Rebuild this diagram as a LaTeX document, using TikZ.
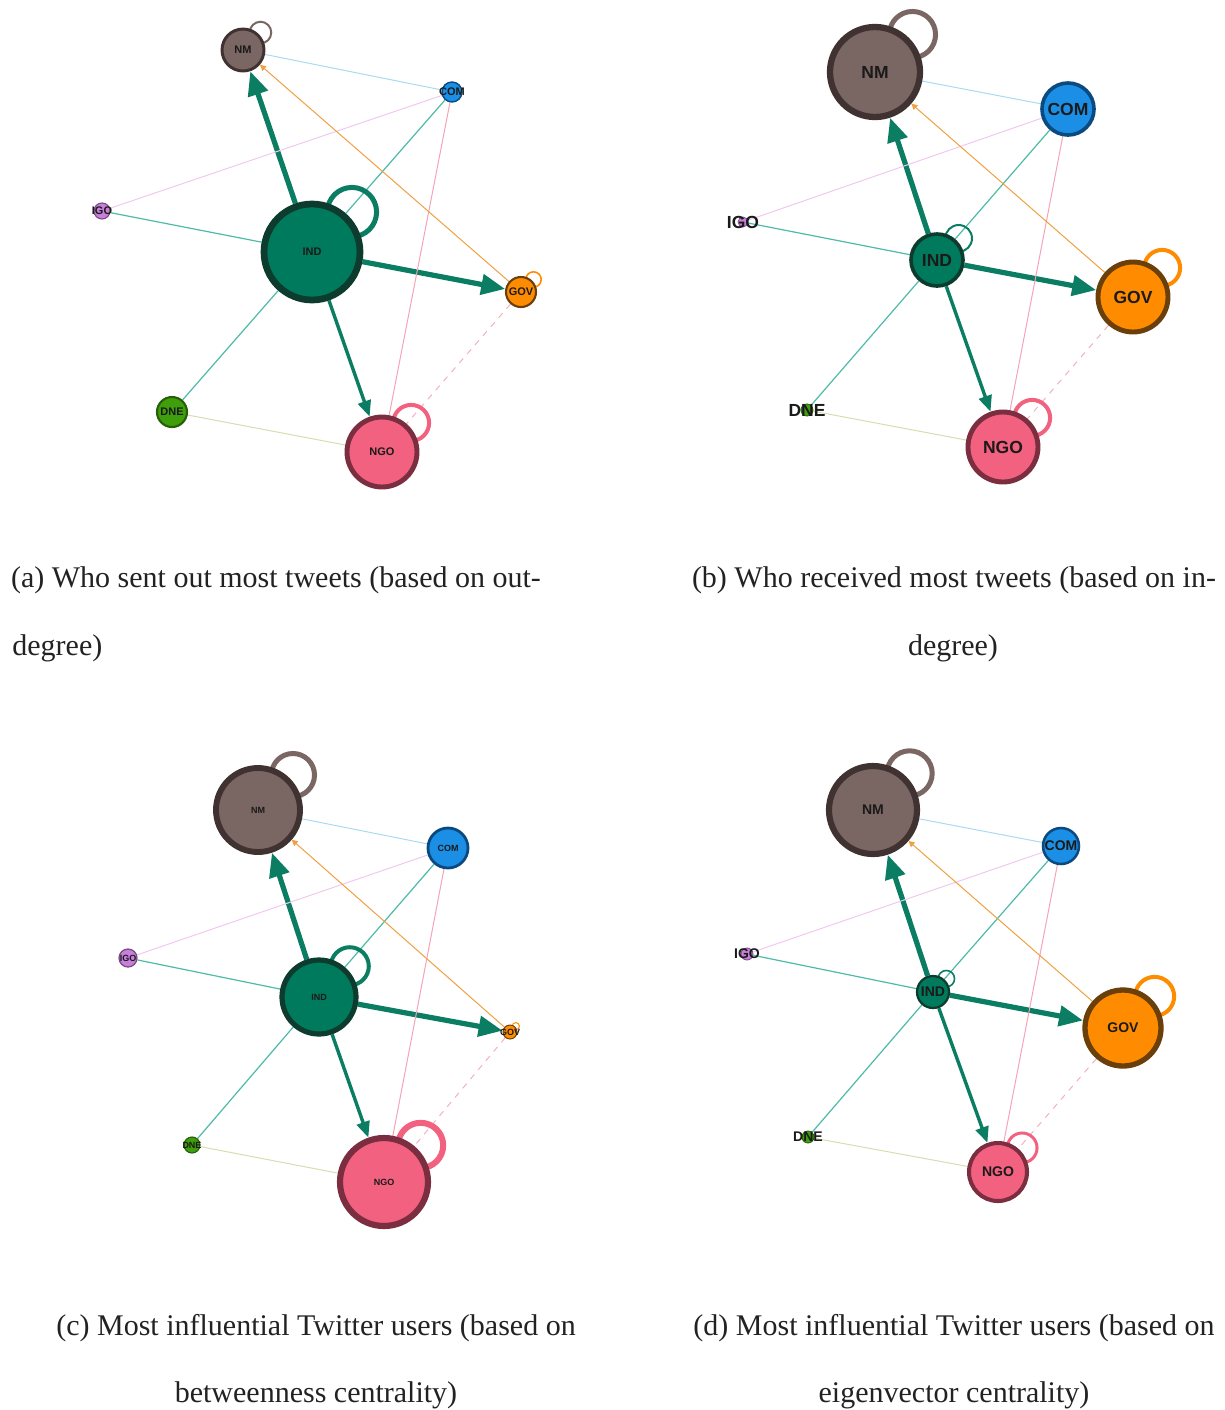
\documentclass[tikz,border=0pt]{standalone}
\usepackage{fontspec}
\setmainfont{Liberation Serif}
\newfontfamily\labfont{Liberation Sans}
\usetikzlibrary{arrows.meta,calc}
\pgfdeclarelayer{bg}
\pgfsetlayers{bg,main}
\definecolor{indF}{HTML}{007A5C}\definecolor{indB}{HTML}{0D3B2E}
\definecolor{nmF}{HTML}{7A6763}\definecolor{nmB}{HTML}{3F3230}
\definecolor{comF}{HTML}{1B8FE6}\definecolor{comB}{HTML}{0B4A80}
\definecolor{igoF}{HTML}{C77FD9}\definecolor{igoB}{HTML}{7A4A88}
\definecolor{govF}{HTML}{FF8C00}\definecolor{govB}{HTML}{6B3F0A}
\definecolor{dneF}{HTML}{3F9E0B}\definecolor{dneB}{HTML}{265F07}
\definecolor{ngoF}{HTML}{F2617F}\definecolor{ngoB}{HTML}{7A2E3F}
\definecolor{greenE}{HTML}{0A7D62}
\definecolor{tealE}{HTML}{4DBBA8}
\definecolor{blueE}{HTML}{A9DAF2}
\definecolor{pinkE}{HTML}{F4A3B8}
\definecolor{violetE}{HTML}{EFC9EF}
\definecolor{orangeE}{HTML}{F0A040}
\definecolor{oliveE}{HTML}{D8DCB0}
\definecolor{dashE}{HTML}{F4B0BF}
\definecolor{labc}{HTML}{1A1A1A}
\definecolor{capc}{HTML}{222222}
\tikzset{
  gnode/.style={circle, inner sep=0pt},
  bigarr/.style={draw=greenE, line width=2.6pt, -{Triangle[length=12pt,width=10pt]}},
  midarr/.style={draw=greenE, line width=1.7pt, -{Triangle[length=8pt,width=6.5pt]}},
  tealline/.style={draw=tealE, line width=0.6pt},
  thinline/.style={line width=0.5pt},
  captext/.style={text=capc, inner sep=0pt, font=\fontsize{15pt}{18pt}\selectfont},
}
\newcommand\gn[7]{%
  \node[gnode, fill=#5F, draw=#5B, minimum size=#4pt, line width=#4*0.07pt] (#1) at (#2,#3) {};
  \node[text=labc, inner sep=0pt, font=\labfont\bfseries\fontsize{#6pt}{#6pt}\selectfont] (#1l) at (#1.center) {#7};}
\newcommand\selfloop[3]{%
  \draw[line width=#2, draw=#3] let \p1=($(#1.45)-(#1.center)$), \n1={veclen(\x1,\y1)} in
    ($(#1.center)!1.1!(#1.45)$) circle[radius=0.48*\n1];}
\newcommand\edges[1]{%
  \draw[bigarr] (#1IND) -- (#1NM);
  \draw[bigarr] (#1IND) -- (#1GOV);
  \draw[midarr] (#1IND) -- (#1NGO);
  \draw[tealline] (#1IND) -- (#1IGO);
  \draw[tealline] (#1IND) -- (#1COM);
  \draw[tealline] (#1IND) -- (#1DNE);
  \draw[thinline, draw=blueE] (#1NM) -- (#1COM);
  \draw[thinline, draw=violetE] (#1COM) -- (#1IGO);
  \draw[thinline, draw=pinkE] (#1COM) -- (#1NGO);
  \draw[thinline, draw=orangeE, -{Triangle[length=3pt,width=3pt]}] (#1GOV) -- (#1NM);
  \draw[thinline, draw=dashE, dashed] (#1GOV) -- (#1NGO);
  \draw[thinline, draw=oliveE] (#1DNE) -- (#1NGO);}
\begin{document}
\begin{tikzpicture}[x=0.5pt,y=-0.5pt]
\useasboundingbox (0,0) rectangle (1225,1410);
% ---------- panel (a)
\gn{aNM}{243}{50}{21}{nm}{5.5}{NM}
\gn{aCOM}{452}{92}{10}{com}{5.5}{COM}
\gn{aIGO}{102}{211}{8}{igo}{5.5}{IGO}
\gn{aIND}{312}{252}{48}{ind}{5.5}{IND}
\gn{aGOV}{521}{292}{15}{gov}{5.5}{GOV}
\gn{aDNE}{172}{412}{15}{dne}{5.5}{DNE}
\gn{aNGO}{382}{452}{35}{ngo}{5.5}{NGO}
% ---------- panel (b)
\gn{bNM}{875}{72}{45}{nm}{8.75}{NM}
\gn{bCOM}{1068}{109}{26}{com}{8.75}{COM}
\gn{bIGO}{743}{222}{5}{igo}{8.75}{IGO}
\gn{bIND}{937}{260}{26}{ind}{8.75}{IND}
\gn{bGOV}{1133}{297}{35}{gov}{8.75}{GOV}
\gn{bDNE}{807}{410}{6}{dne}{8.75}{DNE}
\gn{bNGO}{1003}{447}{35}{ngo}{8.75}{NGO}
% ---------- panel (c)
\gn{cNM}{258}{810}{42}{nm}{4.5}{NM}
\gn{cCOM}{448}{848}{20}{com}{4.5}{COM}
\gn{cIGO}{128}{958}{9}{igo}{4.5}{IGO}
\gn{cIND}{319}{997}{37}{ind}{4.5}{IND}
\gn{cGOV}{510}{1032}{7}{gov}{4.5}{GOV}
\gn{cDNE}{192}{1145}{8}{dne}{4.5}{DNE}
\gn{cNGO}{384}{1182}{44}{ngo}{4.5}{NGO}
% ---------- panel (d)
\gn{dNM}{873}{810}{44}{nm}{7}{NM}
\gn{dCOM}{1061}{846}{18}{com}{7}{COM}
\gn{dIGO}{747}{954}{6}{igo}{7}{IGO}
\gn{dIND}{933}{992}{16}{ind}{7}{IND}
\gn{dGOV}{1123}{1028}{38}{gov}{7}{GOV}
\gn{dDNE}{808}{1137}{6}{dne}{7}{DNE}
\gn{dNGO}{998}{1172}{29}{ngo}{7}{NGO}
\begin{pgfonlayer}{bg}
\edges{a}\edges{b}\edges{c}\edges{d}
\selfloop{aNM}{1pt}{nmF}\selfloop{aIND}{2.5pt}{greenE}\selfloop{aGOV}{0.8pt}{govF}\selfloop{aNGO}{2pt}{ngoF}
\selfloop{bNM}{2.5pt}{nmF}\selfloop{bIND}{1pt}{greenE}\selfloop{bGOV}{2pt}{govF}\selfloop{bNGO}{2pt}{ngoF}
\selfloop{cNM}{2.5pt}{nmF}\selfloop{cIND}{2pt}{greenE}\selfloop{cGOV}{0.5pt}{govF}\selfloop{cNGO}{3pt}{ngoF}
\selfloop{dNM}{2.5pt}{nmF}\selfloop{dIND}{0.8pt}{greenE}\selfloop{dGOV}{2pt}{govF}\selfloop{dNGO}{1.5pt}{ngoF}
\end{pgfonlayer}
% ---------- captions
\node[captext] (capa1) at (276,580) {(a) Who sent out most tweets (based on out-};
\node[captext, anchor=west] (capa2) at (12,648) {degree)};
\node[captext] (capb1) at (954,580) {(b) Who received most tweets (based on in-};
\node[captext] (capb2) at (953,648) {degree)};
\node[captext] (capc1) at (316,1328) {(c) Most influential Twitter users (based on};
\node[captext] (capc2) at (316,1395) {betweenness centrality)};
\node[captext] (capd1) at (954,1328) {(d) Most influential Twitter users (based on};
\node[captext] (capd2) at (954,1395) {eigenvector centrality)};
\end{tikzpicture}
\end{document}
